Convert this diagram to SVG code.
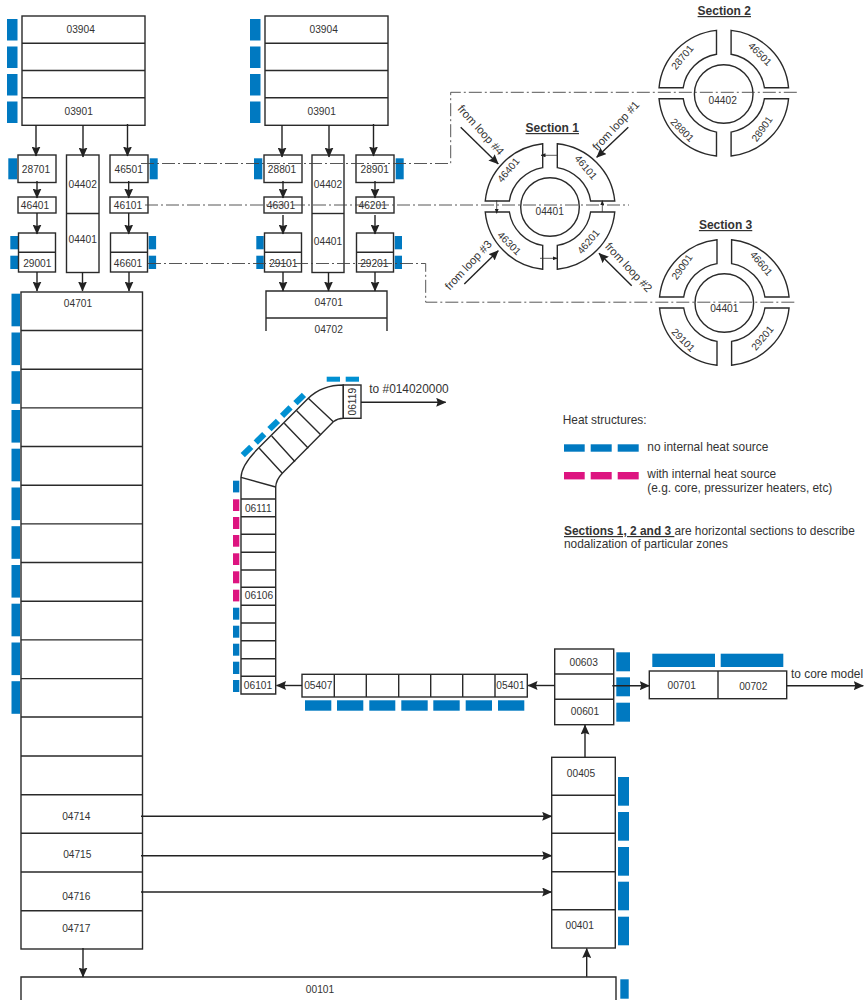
<svg xmlns="http://www.w3.org/2000/svg" width="865" height="1000" viewBox="0 0 865 1000">
<style>
text{font-family:"Liberation Sans",Arial,sans-serif;fill:#333}
.t{font-size:10.2px;text-anchor:middle}
.l{font-size:11.9px}
.f{font-size:11.3px;text-anchor:middle}
.h{font-size:12px;font-weight:bold;text-anchor:middle;text-decoration:underline}
.b{fill:#fff;stroke:#2a2a2a;stroke-width:1.4}
.i{fill:none;stroke:#2a2a2a;stroke-width:1.4}
.c{fill:none;stroke:#222;stroke-width:1.4;marker-end:url(#a)}
.s{fill:none;stroke:#333;stroke-width:.8;marker-end:url(#sa)}
.d{fill:none;stroke:#444;stroke-width:.9;stroke-dasharray:13 3 2 3}
.hb{fill:#0079c1}
.hl{fill:#0090d2}
.hp{fill:#dd1480}
</style>
<defs>
<marker id="a" markerUnits="userSpaceOnUse" markerWidth="10" markerHeight="9" refX="9.5" refY="4.5" orient="auto"><path d="M0,0L10,4.5L0,9L1.5,4.5Z" fill="#222"/></marker>
<marker id="sa" markerUnits="userSpaceOnUse" markerWidth="5" markerHeight="4" refX="4.5" refY="2" orient="auto"><path d="M0,0L5,2L0,4Z" fill="#222"/></marker>
<path id="seg" class="b" d="M-7.3,-62.8A65,63.2 0 0 0 -64.75,-5.5L-40.6,-5.5A41,39.5 0 0 1 -7.3,-38.9Z"/>
<g id="ring">
<use href="#seg"/>
<use href="#seg" transform="scale(-1,1)"/>
<use href="#seg" transform="scale(1,-1)"/>
<use href="#seg" transform="scale(-1,-1)"/>
</g>
</defs>
<rect width="865" height="1000" fill="#fff"/>

<g id="heat-upper-left">
<rect class="hb" x="7" y="19" width="10.5" height="21.5"/><rect class="hb" x="7" y="46.5" width="10.5" height="21.5"/><rect class="hb" x="7" y="74" width="10.5" height="21.5"/><rect class="hb" x="7" y="101.5" width="10.5" height="21.5"/>
<rect class="hb" x="8.3" y="158.3" width="8.7" height="21"/><rect class="hb" x="149.7" y="158.3" width="8" height="21"/>
<rect class="hb" x="10.3" y="236" width="7.7" height="13.3"/><rect class="hb" x="10.3" y="255.7" width="7.7" height="13.3"/>
<rect class="hb" x="148.7" y="236" width="7.4" height="13.3"/><rect class="hb" x="148.7" y="255.7" width="7.4" height="13.3"/>
<rect class="hb" x="11.5" y="293.7" width="8.5" height="32.6"/><rect class="hb" x="11.5" y="332.5" width="8.5" height="32.6"/><rect class="hb" x="11.5" y="371.2" width="8.5" height="32.6"/><rect class="hb" x="11.5" y="410" width="8.5" height="32.6"/><rect class="hb" x="11.5" y="448.7" width="8.5" height="32.6"/><rect class="hb" x="11.5" y="487.5" width="8.5" height="32.6"/><rect class="hb" x="11.5" y="526.2" width="8.5" height="32.6"/><rect class="hb" x="11.5" y="565" width="8.5" height="32.6"/><rect class="hb" x="11.5" y="603.7" width="8.5" height="32.6"/><rect class="hb" x="11.5" y="642.5" width="8.5" height="32.6"/><rect class="hb" x="11.5" y="681.2" width="8.5" height="32.6"/>
</g>
<g id="heat-upper-right">
<rect class="hb" x="250" y="19" width="10.5" height="21.5"/><rect class="hb" x="250" y="46.5" width="10.5" height="21.5"/><rect class="hb" x="250" y="74" width="10.5" height="21.5"/><rect class="hb" x="250" y="101.5" width="10.5" height="21.5"/>
<rect class="hb" x="254" y="158.3" width="8.3" height="21"/><rect class="hb" x="395.7" y="158.3" width="8" height="21"/>
<rect class="hb" x="256.3" y="236" width="7.4" height="13.3"/><rect class="hb" x="256.3" y="255.7" width="7.4" height="13.3"/>
<rect class="hb" x="394.7" y="236" width="7.3" height="13.3"/><rect class="hb" x="394.7" y="255.7" width="7.3" height="13.3"/>
</g>

<g id="v039-left"><rect class="b" x="22" y="16" width="123" height="109.3"/><path class="i" d="M22,43.3H145M22,70.5H145M22,97.8H145"/><text class="t" x="80.7" y="32.7">03904</text><text class="t" x="78.7" y="115">03901</text></g>
<g id="v28701"><rect class="b" x="18" y="155" width="38" height="27.5"/><text class="t" x="36" y="172.7">28701</text></g>
<g id="v46401"><rect class="b" x="18" y="197" width="38" height="16"/><text class="t" x="35" y="208.7">46401</text></g>
<g id="v29001"><rect class="b" x="18.5" y="233" width="37" height="39"/><path class="i" d="M18.5,252.3H55.5"/><text class="t" x="37.3" y="266.7">29001</text></g>
<g id="v044-left"><rect class="b" x="66.5" y="155" width="32.5" height="117.5"/><path class="i" d="M66.5,213.5H99"/><text class="t" x="82.7" y="188">04402</text><text class="t" x="82.7" y="242.7">04401</text></g>
<g id="v46501"><rect class="b" x="110" y="155" width="38" height="27.5"/><text class="t" x="128.7" y="172.7">46501</text></g>
<g id="v46101"><rect class="b" x="110" y="197" width="38" height="16"/><text class="t" x="128" y="208.7">46101</text></g>
<g id="v46601"><rect class="b" x="110.5" y="233" width="37" height="39"/><path class="i" d="M110.5,252.3H147.5"/><text class="t" x="128" y="266.7">46601</text></g>

<g id="v047-left"><rect class="b" x="21" y="292" width="121.5" height="657"/><path class="i" d="M21,330.5H142.5M21,369.2H142.5M21,407.9H142.5M21,446.5H142.5M21,485.2H142.5M21,523.9H142.5M21,562.5H142.5M21,601.2H142.5M21,639.9H142.5M21,678.6H142.5M21,717H142.5M21,756H142.5M21,794.7H142.5M21,833.3H142.5M21,872H142.5M21,910.7H142.5"/><text class="t" x="78" y="306.7">04701</text><text class="t" x="76.3" y="819.8">04714</text><text class="t" x="77.3" y="858">04715</text><text class="t" x="76.3" y="899.7">04716</text><text class="t" x="76.3" y="931.7">04717</text></g>

<g id="v039-right"><rect class="b" x="265" y="16" width="123" height="109.3"/><path class="i" d="M265,43.3H388M265,70.5H388M265,97.8H388"/><text class="t" x="323.7" y="32.7">03904</text><text class="t" x="321.7" y="115">03901</text></g>
<g id="v28801"><rect class="b" x="264" y="155" width="38" height="27.5"/><text class="t" x="282" y="172.7">28801</text></g>
<g id="v46301"><rect class="b" x="264" y="197" width="38" height="16"/><text class="t" x="281" y="208.7">46301</text></g>
<g id="v29101"><rect class="b" x="264.5" y="233" width="37" height="39"/><path class="i" d="M264.5,252.3H301.5"/><text class="t" x="283.3" y="266.7">29101</text></g>
<g id="v044-right"><rect class="b" x="312" y="155" width="32" height="117.5"/><path class="i" d="M312,213.5H344"/><text class="t" x="328" y="188">04402</text><text class="t" x="328" y="244.7">04401</text></g>
<g id="v28901"><rect class="b" x="356" y="155" width="38" height="27.5"/><text class="t" x="374.7" y="172.7">28901</text></g>
<g id="v46201"><rect class="b" x="356" y="197" width="38" height="16"/><text class="t" x="372.7" y="208.7">46201</text></g>
<g id="v29201"><rect class="b" x="356.5" y="233" width="37" height="39"/><path class="i" d="M356.5,252.3H393.5"/><text class="t" x="374.3" y="266.7">29201</text></g>
<g id="v047-right"><path class="b" d="M266,331V291H387V331"/><path class="i" d="M266,318H387"/><text class="t" x="328.7" y="306">04701</text><text class="t" x="328.7" y="333.3">04702</text></g>

<g id="section-1">
<text class="h" x="552.3" y="132">Section 1</text>
<use href="#ring" x="550" y="206.5"/>
<circle class="b" cx="550" cy="207" r="29.3"/>
<text class="t" x="549.7" y="215">04401</text>
<text class="t" transform="translate(511,172.3) rotate(-50)">46401</text>
<text class="t" transform="translate(583.2,169.6) rotate(50)">46101</text>
<text class="t" transform="translate(506.8,245.8) rotate(45)">46301</text>
<text class="t" transform="translate(591,244) rotate(-50)">46201</text>
<text class="f" transform="translate(478,132.7) rotate(48)">from loop #4</text>
<text class="f" transform="translate(618.6,128.4) rotate(-47)">from loop #1</text>
<text class="f" transform="translate(471.2,267.7) rotate(-47)">from loop #3</text>
<text class="f" transform="translate(625.8,270) rotate(47)">from loop #2</text>
</g>
<g id="section-2">
<text class="h" x="724.3" y="15">Section 2</text>
<use href="#ring" x="723.8" y="93.2"/>
<circle class="b" cx="723.7" cy="94" r="29.3"/>
<text class="t" x="722.7" y="103.5">04402</text>
<text class="t" transform="translate(685,59.6) rotate(-50)">28701</text>
<text class="t" transform="translate(757.5,56.5) rotate(45)">46501</text>
<text class="t" transform="translate(679.8,132.5) rotate(45)">28801</text>
<text class="t" transform="translate(765,131) rotate(-55)">28901</text>
</g>
<g id="section-3">
<text class="h" x="725.6" y="229">Section 3</text>
<use href="#ring" x="724.3" y="302.5"/>
<circle class="b" cx="724.3" cy="303" r="29.3"/>
<text class="t" x="724.3" y="311.5">04401</text>
<text class="t" transform="translate(685,269) rotate(-55)">29001</text>
<text class="t" transform="translate(758.5,265.8) rotate(50)">46601</text>
<text class="t" transform="translate(680.8,342.5) rotate(45)">29101</text>
<text class="t" transform="translate(765,340.3) rotate(-50)">29201</text>
</g>

<g id="v061">
<path class="b" d="M241,694V477.3Q241.5,465 258.3,448.3L308.3,398.3Q322,385 343.3,385V418.3Q338,418.3 333.3,421.7L282.3,473.3Q276,480 275.7,487V694Z"/>
<path class="i" d="M241,477.3L275.7,487M241,499H275.7M241,516.7H275.7M241,534.3H275.7M241,552.3H275.7M241,570H275.7M241,587.3H275.7M241,605.3H275.7M241,623H275.7M241,640.7H275.7M241,658.7H275.7M241,676.3H275.7M282.3,473.3L259.3,448.3M295,461.7L271.7,436M308.3,448.3L284.3,423.3M321,435L296.7,410.7M333.3,421.7L308.3,398.3"/>
<rect class="b" x="343.3" y="385" width="17.7" height="33.3"/>
<text class="t" transform="translate(355.5,401.7) rotate(-90)">06119</text>
<text class="t" x="258.3" y="511.7">06111</text><text class="t" x="259" y="599">06106</text><text class="t" x="258" y="689">06101</text>
</g>
<g id="heat-v061">
<rect class="hl" x="326.7" y="376.7" width="13.3" height="5"/><rect class="hl" x="345.7" y="376.7" width="13.3" height="5"/>
<rect class="hl" x="-6" y="-3" width="12" height="6" transform="translate(299.7,399) rotate(-45)"/><rect class="hl" x="-6" y="-3" width="12" height="6" transform="translate(286.3,411.7) rotate(-45)"/><rect class="hl" x="-6" y="-3" width="12" height="6" transform="translate(273.7,425) rotate(-45)"/><rect class="hl" x="-6" y="-3" width="12" height="6" transform="translate(260,438.3) rotate(-45)"/><rect class="hl" x="-6" y="-3" width="12" height="6" transform="translate(247,451) rotate(-45)"/>
<rect class="hb" x="233" y="480.7" width="6.3" height="11.7"/>
<rect class="hp" x="233" y="499.3" width="6.3" height="11.7"/><rect class="hp" x="233" y="517" width="6.3" height="12"/><rect class="hp" x="233" y="535" width="6.3" height="11.7"/><rect class="hp" x="233" y="553.3" width="6.3" height="11.7"/><rect class="hp" x="233" y="571.3" width="6.3" height="12"/><rect class="hp" x="233" y="589.7" width="6.3" height="11.7"/>
<rect class="hb" x="233" y="607.7" width="6.3" height="12"/><rect class="hb" x="233" y="625.7" width="6.3" height="12"/><rect class="hb" x="233" y="643.7" width="6.3" height="12"/><rect class="hb" x="233" y="661.7" width="6.3" height="12.3"/><rect class="hb" x="233" y="680" width="6.3" height="12"/>
</g>
<g id="v054">
<rect class="b" x="302" y="674.3" width="225.3" height="22.7"/>
<path class="i" d="M334.3,674.3V697M366.3,674.3V697M398.7,674.3V697M430.7,674.3V697M462.7,674.3V697M495,674.3V697"/>
<text class="t" x="318.3" y="689">05407</text><text class="t" x="510.5" y="689">05401</text>
<rect class="hb" x="305" y="700.3" width="26.3" height="10.4"/><rect class="hb" x="337" y="700.3" width="26.3" height="10.4"/><rect class="hb" x="369.3" y="700.3" width="26" height="10.4"/><rect class="hb" x="401.3" y="700.3" width="26.4" height="10.4"/><rect class="hb" x="433.3" y="700.3" width="26.4" height="10.4"/><rect class="hb" x="465.7" y="700.3" width="26.3" height="10.4"/><rect class="hb" x="498" y="700.3" width="26.3" height="10.4"/>
</g>
<g id="v006">
<rect class="b" x="554.7" y="649" width="59" height="75.7"/><path class="i" d="M554.7,674H613.7M554.7,699.3H613.7"/>
<text class="t" x="583.7" y="666">00603</text><text class="t" x="585" y="715.3">00601</text>
<rect class="hb" x="616.3" y="652.3" width="13.7" height="19"/><rect class="hb" x="616.3" y="677.3" width="13.7" height="19"/><rect class="hb" x="616.3" y="702.7" width="13.7" height="19"/>
</g>
<g id="v007">
<rect class="b" x="649.3" y="671" width="137.4" height="27.7"/><path class="i" d="M718,671V698.7"/>
<text class="t" x="681.7" y="688.7">00701</text><text class="t" x="753.3" y="690">00702</text>
<rect class="hb" x="652.3" y="653.7" width="62.7" height="13.3"/><rect class="hb" x="720.7" y="653.7" width="62.6" height="13.3"/>
</g>
<g id="v004">
<rect class="b" x="551.7" y="757.3" width="63.6" height="190.7"/><path class="i" d="M551.7,795.3H615.3M551.7,833.3H615.3M551.7,871.7H615.3M551.7,909.7H615.3"/>
<text class="t" x="581" y="777">00405</text><text class="t" x="579.7" y="929.3">00401</text>
<rect class="hb" x="618" y="777" width="11" height="28.7"/><rect class="hb" x="618" y="812" width="11" height="28.7"/><rect class="hb" x="618" y="847" width="11" height="28.7"/><rect class="hb" x="618" y="881.7" width="11" height="28.6"/><rect class="hb" x="618" y="916.7" width="11" height="28.6"/>
</g>
<g id="v001">
<path class="b" d="M21,1001V977H616V1001"/>
<text class="t" x="320" y="993">00101</text>
<rect class="hb" x="620.3" y="979.3" width="8.4" height="19.4"/>
</g>
<g id="legend">
<text class="l" x="562.7" y="424.3">Heat structures:</text>
<rect class="hb" x="564" y="444.3" width="20.7" height="7.4"/><rect class="hb" x="590.7" y="444.3" width="21" height="7.4"/><rect class="hb" x="617.7" y="444.3" width="21" height="7.4"/>
<text class="l" x="647.3" y="450.7">no internal heat source</text>
<rect class="hp" x="564" y="472" width="20.7" height="7.4"/><rect class="hp" x="590.7" y="472" width="21" height="7.4"/><rect class="hp" x="617.7" y="472" width="21" height="7.4"/>
<text class="l" x="647.3" y="478.3">with internal heat source</text>
<text class="l" x="647.3" y="492.3">(e.g. core, pressurizer heaters, etc)</text>
<text class="l" x="564" y="535"><tspan font-weight="bold" text-decoration="underline">Sections 1, 2 and 3 </tspan>are horizontal sections to describe</text>
<text class="l" x="564" y="548.3">nodalization of particular zones</text>
<text class="l" x="369.3" y="393.3">to #014020000</text>
<text class="l" x="791" y="677.7">to core model</text>
</g>

<g id="connectors">
<path class="d" d="M141,163.5H450.7V92.3H797"/>
<path class="d" d="M145,205H629"/>
<path class="d" d="M148,263.5H425.7V302.2H797"/>
<path class="c" d="M36,125V156"/><path class="c" d="M83,125V157"/><path class="c" d="M127.5,124V156"/>
<path class="c" d="M37,181V198"/><path class="c" d="M37,213V234"/>
<path class="c" d="M128.7,181V198"/><path class="c" d="M128.7,213V234"/>
<path class="c" d="M37,272V291"/><path class="c" d="M82.5,272V291"/><path class="c" d="M129,272V291"/>
<path class="c" d="M282,125V157"/><path class="c" d="M329,125V157"/><path class="c" d="M373.5,124V156"/>
<path class="c" d="M283,181V198"/><path class="c" d="M283,215V234"/>
<path class="c" d="M375,181V198"/><path class="c" d="M375,215V234"/>
<path class="c" d="M283,272V291"/><path class="c" d="M328.5,272V291"/><path class="c" d="M375,272V291"/>
<path class="c" d="M460.7,127.3L498.3,164"/><path class="c" d="M628.3,127.3L596.7,157.3"/><path class="c" d="M464.3,284L498.3,250.7"/><path class="c" d="M631.7,285.7L599,253.3"/>
<path class="s" d="M557.7,155.3H541"/><path class="s" d="M496.7,200V213.3"/><path class="s" d="M540,258.3H557.3"/><path class="s" d="M602.3,212V200.7"/>
<path class="c" d="M361,402.3H445.7"/>
<path class="c" d="M302,685.5H276.5"/><path class="c" d="M555,685.5H528"/>
<path class="c" d="M612.3,685.7H649.3"/><path class="c" d="M786.7,685.7H863.3"/>
<path class="c" d="M585,757.3V725"/><path class="c" d="M586.7,976.7V948.5"/>
<path class="c" d="M141,816.3H551.7"/><path class="c" d="M141,855.7H551.7"/><path class="c" d="M141,892H551.7"/>
<path class="c" d="M83,948V977"/>
</g>
</svg>
